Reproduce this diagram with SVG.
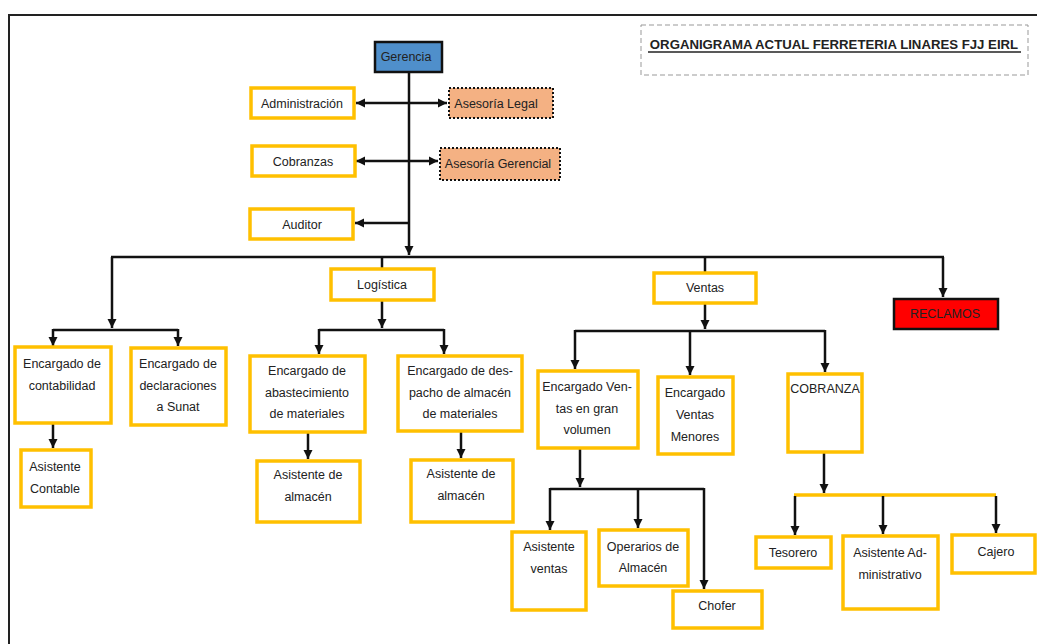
<svg xmlns="http://www.w3.org/2000/svg" width="1037" height="644" viewBox="0 0 1037 644">
<style>
  text { font-family: "Liberation Sans", Arial, sans-serif; font-size: 12.5px; fill: #222; text-anchor: middle; }
  .box { fill: #fff; stroke: #FFC000; stroke-width: 3.5; }
  .con { fill: none; stroke: #111; stroke-width: 2.5; }
  .arr { marker-end: url(#ah); }
  .ybar { fill: none; stroke: #FFC000; stroke-width: 3.5; }
  .ase { fill: #F4B183; stroke: #111; stroke-width: 2; stroke-dasharray: 2 2; }
</style>
<defs>
  <marker id="ah" markerUnits="userSpaceOnUse" markerWidth="10" markerHeight="10" refX="9" refY="5" orient="auto-start-reverse">
    <path d="M0,0.5 L9,5 L0,9.5 z" fill="#111"/>
  </marker>
</defs>
<rect x="0" y="0" width="1037" height="644" fill="#fff"/>
<g id="frame">
  <line x1="8" y1="15" x2="1037" y2="15" stroke="#222" stroke-width="2"/>
  <line x1="9" y1="14" x2="9" y2="644" stroke="#222" stroke-width="2"/>
</g>
<g id="title">
  <rect x="641" y="25" width="387" height="50" fill="none" stroke="#999" stroke-width="1" stroke-dasharray="5 3"/>
  <text x="834" y="49" style="font-weight:bold;font-size:13.2px">ORGANIGRAMA ACTUAL FERRETERIA LINARES FJJ EIRL</text>
  <line x1="648" y1="52" x2="1021" y2="52" stroke="#222" stroke-width="1.3"/>
</g>
<g id="connectors">
  <path class="con arr" d="M409,72 V255"/>
  <path class="con" d="M356,103 H447" marker-start="url(#ah)" marker-end="url(#ah)"/>
  <path class="con" d="M356,161 H438" marker-start="url(#ah)" marker-end="url(#ah)"/>
  <path class="con arr" d="M409,223 H355"/>
  <path class="con" d="M111,257 H944"/>
  <path class="con arr" d="M112,257 V328"/>
  <path class="con arr" d="M943,257 V297"/>
  <path class="con" d="M53,330 H178"/>
  <path class="con arr" d="M53,329 V346"/>
  <path class="con arr" d="M178,329 V346"/>
  <path class="con arr" d="M53,424 V448"/>
  <path class="con" d="M382,257 V269"/>
  <path class="con arr" d="M382,300 V328"/>
  <path class="con" d="M319,330 H444"/>
  <path class="con arr" d="M319,329 V354"/>
  <path class="con arr" d="M444,329 V354"/>
  <path class="con arr" d="M308,432 V459"/>
  <path class="con arr" d="M461,432 V458"/>
  <path class="con" d="M705,257 V273"/>
  <path class="con arr" d="M705,303 V329"/>
  <path class="con" d="M575,331 H825"/>
  <path class="con arr" d="M575,330 V369"/>
  <path class="con arr" d="M690,330 V375"/>
  <path class="con arr" d="M825,330 V372"/>
  <path class="con arr" d="M580,448 V487"/>
  <path class="con" d="M550,489 H704"/>
  <path class="con arr" d="M550,488 V530"/>
  <path class="con arr" d="M638,488 V528"/>
  <path class="con arr" d="M704,488 V589"/>
  <path class="con arr" d="M824,453 V493"/>
  <path class="ybar" d="M794,495 H996"/>
  <path class="con arr" d="M795,496 V535"/>
  <path class="con arr" d="M883,496 V534"/>
  <path class="con arr" d="M996,496 V533"/>
</g>
<g id="gerencia">
  <rect x="375" y="42" width="67" height="30" fill="#4F8FCB" stroke="#111" stroke-width="2.5"/>
  <text x="406" y="61">Gerencia</text>
</g>
<g id="administracion">
  <rect class="box" x="251" y="88" width="103" height="30"/>
  <text x="302" y="108">Administración</text>
</g>
<g id="asesoria-legal">
  <rect class="ase" x="449" y="88" width="104" height="30"/>
  <text x="496" y="108">Asesoría Legal</text>
</g>
<g id="cobranzas">
  <rect class="box" x="252" y="146" width="103" height="30"/>
  <text x="303" y="166">Cobranzas</text>
</g>
<g id="asesoria-gerencial">
  <rect class="ase" x="440" y="148" width="120" height="32"/>
  <text x="498" y="168">Asesoría Gerencial</text>
</g>
<g id="auditor">
  <rect class="box" x="250" y="209" width="103" height="30"/>
  <text x="302" y="229">Auditor</text>
</g>
<g id="logistica">
  <rect class="box" x="331" y="269" width="103" height="31"/>
  <text x="382" y="289">Logística</text>
</g>
<g id="ventas">
  <rect class="box" x="654" y="273" width="102" height="30"/>
  <text x="705" y="292">Ventas</text>
</g>
<g id="reclamos">
  <rect x="894" y="299" width="104" height="30" fill="#FF0000" stroke="#111" stroke-width="2.5"/>
  <text x="945" y="318">RECLAMOS</text>
</g>
<g id="enc-contabilidad">
  <rect class="box" x="15" y="347" width="96" height="76"/>
  <text x="62" y="368">Encargado de</text>
  <text x="62" y="390">contabilidad</text>
</g>
<g id="enc-declaraciones">
  <rect class="box" x="131" y="348" width="95" height="77"/>
  <text x="178" y="368">Encargado de</text>
  <text x="178" y="390">declaraciones</text>
  <text x="178" y="411">a Sunat</text>
</g>
<g id="asistente-contable">
  <rect class="box" x="21" y="450" width="70" height="57"/>
  <text x="55" y="471">Asistente</text>
  <text x="55" y="493">Contable</text>
</g>
<g id="enc-abastecimiento">
  <rect class="box" x="250" y="356" width="115" height="76"/>
  <text x="307" y="375">Encargado de</text>
  <text x="307" y="397">abastecimiento</text>
  <text x="307" y="418">de materiales</text>
</g>
<g id="enc-despacho">
  <rect class="box" x="398" y="356" width="124" height="75"/>
  <text x="460" y="375">Encargado de des-</text>
  <text x="460" y="397">pacho de almacén</text>
  <text x="460" y="418">de materiales</text>
</g>
<g id="asistente-almacen-1">
  <rect class="box" x="257" y="461" width="103" height="61"/>
  <text x="308" y="479">Asistente de</text>
  <text x="308" y="501">almacén</text>
</g>
<g id="asistente-almacen-2">
  <rect class="box" x="411" y="460" width="102" height="62"/>
  <text x="461" y="478">Asistente de</text>
  <text x="461" y="500">almacén</text>
</g>
<g id="enc-gran-volumen">
  <rect class="box" x="538" y="371" width="100" height="77"/>
  <text x="587" y="391">Encargado Ven-</text>
  <text x="587" y="413">tas en gran</text>
  <text x="587" y="434">volumen</text>
</g>
<g id="enc-ventas-menores">
  <rect class="box" x="658" y="377" width="75" height="77"/>
  <text x="695" y="397">Encargado</text>
  <text x="695" y="419">Ventas</text>
  <text x="695" y="441">Menores</text>
</g>
<g id="cobranza">
  <rect class="box" x="788" y="374" width="74" height="78"/>
  <text x="825" y="393">COBRANZA</text>
</g>
<g id="asistente-ventas">
  <rect class="box" x="512" y="532" width="74" height="78"/>
  <text x="549" y="551">Asistente</text>
  <text x="549" y="573">ventas</text>
</g>
<g id="operarios-almacen">
  <rect class="box" x="599" y="530" width="89" height="56"/>
  <text x="643" y="551">Operarios de</text>
  <text x="643" y="572">Almacén</text>
</g>
<g id="chofer">
  <rect class="box" x="673" y="591" width="89" height="37"/>
  <text x="717" y="610">Chofer</text>
</g>
<g id="tesorero">
  <rect class="box" x="756" y="537" width="75" height="31"/>
  <text x="793" y="557">Tesorero</text>
</g>
<g id="asistente-administrativo">
  <rect class="box" x="843" y="536" width="95" height="73"/>
  <text x="890" y="557">Asistente Ad-</text>
  <text x="890" y="579">ministrativo</text>
</g>
<g id="cajero">
  <rect class="box" x="952" y="535" width="83" height="38"/>
  <text x="996" y="556">Cajero</text>
</g>
</svg>
